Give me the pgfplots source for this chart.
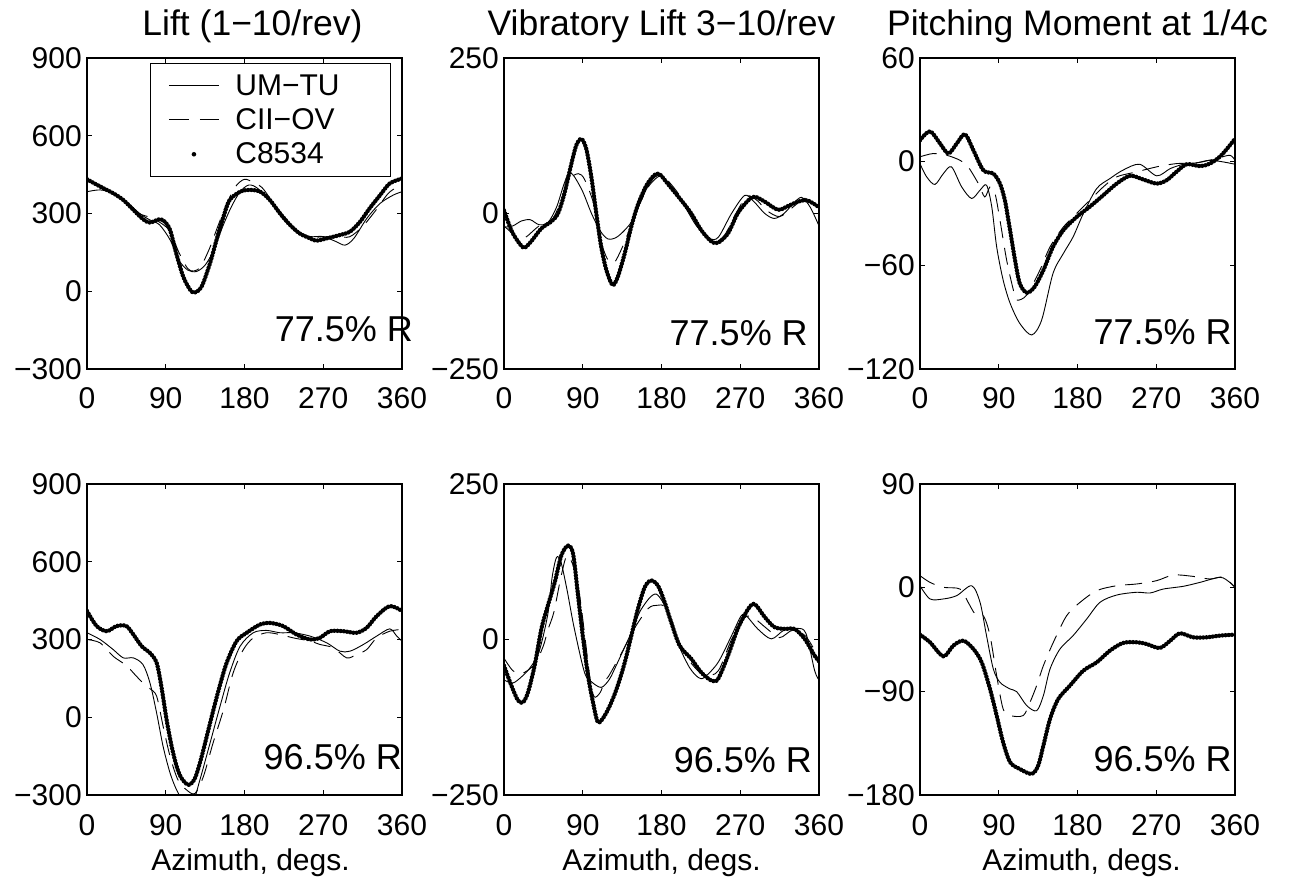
\documentclass[border=0pt]{standalone}
\usepackage{fontspec}
\setmainfont{Liberation Sans}
\usepackage{pgfplots}
\pgfplotsset{compat=1.18}

\tikzset{ann/.style={anchor=base east, font=\fontsize{36}{40}\selectfont, inner sep=0pt}}
\pgfplotsset{
  mm/.style={
    scale only axis, width=315pt, height=311pt,
    xmin=0, xmax=360, xtick={0,90,180,270,360},
    xticklabels={0,90,180,270,360},
    tick align=inside, major tick length=5pt,
    axis line style={line width=1.2pt},
    every tick/.style={line width=1.2pt, black},
    tick label style={font=\fontsize{30}{36}\selectfont},
    yticklabel style={anchor=east, inner sep=0pt, xshift=-5pt},
    xticklabel style={anchor=base, inner sep=0pt, yshift=-40pt},
    title style={font=\fontsize{35.5}{40}\selectfont, at={(0.5,1)}, anchor=base, yshift=16pt, inner sep=0pt},
    xlabel style={font=\fontsize{30}{36}\selectfont, at={(0.5,0)}, anchor=base, yshift=-75pt, inner sep=0pt},
    clip mode=individual,
    anchor=south west,
  },
  um/.style={black, line width=0.9pt, smooth},
  cii/.style={black, line width=0.9pt, dash pattern=on 17pt off 10pt, smooth},
  cc/.style={black, line width=4.4pt, line cap=round, dash pattern=on 0pt off 3.2pt, smooth},
}

\begin{document}
\begin{tikzpicture}
\useasboundingbox (0,0) rectangle (1289pt,881pt);

% ---------------- Panel 1 ----------------
\begin{axis}[mm, at={(87pt,512pt)},
  ymin=-300, ymax=900, ytick={-300,0,300,600,900},
  yticklabels={−300,0,300,600,900},
  title={Lift (1−10/rev)}, title style={xshift=8pt},
  legend style={at={(0.2,0.984)}, anchor=north west, draw=black, line width=1pt,
    fill=white, font=\fontsize{30}{36}\selectfont, inner xsep=18pt, inner ysep=9pt,
    row sep=8pt, cells={anchor=west},
    /tikz/every odd column/.append style={column sep=14pt}},
]
\addplot[um, legend image code/.code={\draw[black, line width=0.9pt, solid] (0pt,0pt) -- (50pt,0pt);}] coordinates {
(0,384)(15,391)(30,378)(45,346)(60,300)(72,275)(83,256)(95,198)(105,120)(115,82)(125,76)(135,101)(145,159)(155,249)(165,326)(175,384)(185,410)(195,397)(210,346)(225,275)(240,230)(255,211)(270,211)(285,191)(295,178)(305,204)(320,282)(335,339)(350,371)(360,384)};
\addlegendentry{\makebox[135pt][l]{UM−TU}}
\addplot[cii, legend image code/.code={\draw[black, line width=0.9pt, solid] (0pt,0pt) -- (20pt,0pt); \draw[black, line width=0.9pt, solid] (31pt,0pt) -- (50pt,0pt);}] coordinates {
(0,425)(15,410)(30,380)(45,345)(60,300)(72,285)(85,262)(95,230)(105,150)(115,88)(122,78)(130,95)(140,165)(150,255)(160,340)(170,405)(180,432)(190,420)(200,400)(210,355)(225,290)(240,235)(255,210)(270,210)(285,212)(300,210)(315,250)(330,312)(345,380)(360,412)};
\addlegendentry{\makebox[135pt][l]{CII−OV}}
\addplot[cc, legend image code/.code={\path[draw=none] (0pt,0pt) -- (50pt,0pt); \fill[black, draw=none] (25pt,0pt) circle (2.3pt);}] coordinates {
(0,432)(15,404)(30,378)(41.5,352)(53,314)(64,278)(72,265)(83,278)(89,268)(95,236)(102,146)(110,56)(118,5)(123,-5)(131,18)(140.6,108)(148,198)(156,288)(163,352)(175,384)(186,391)(198,384)(209,352)(220.6,300)(232,256)(243,223)(255,204)(262,195)(274,204)(289,217)(300.6,230)(312,268)(323,320)(335,371)(346,416)(360,435)};
\addlegendentry{\makebox[135pt][l]{C8534}}
\node[ann] at (rel axis cs:1.035,0.087) {77.5\% R};
\end{axis}

% ---------------- Panel 2 ----------------
\begin{axis}[mm, at={(504pt,512pt)},
  ymin=-250, ymax=250, ytick={-250,0,250},
  yticklabels={−250,0,250},
  title={Vibratory Lift 3−10/rev},
]
\addplot[um] coordinates {
(0,-22)(10,-20)(20,-12)(30,-10)(40,-18)(50,-15)(60,10)(68,45)(74,65)(80,60)(90,35)(100,0)(110,-28)(119,-41)(130,-37)(145,-15)(155,15)(165,45)(176,61)(190,45)(205,15)(220,-20)(235,-40)(245,-38)(260,0)(275,29)(285,20)(298,0)(309,-8)(320,0)(330,15)(340,26)(350,10)(360,-20)};
\addplot[cii] coordinates {
(0,-20)(8,-30)(16,-40)(25,-38)(40,-20)(55,-10)(65,20)(75,55)(85,64)(92,55)(102,18)(107,-22)(113,-55)(119,-75)(126,-79)(135,-55)(145,-20)(155,15)(165,43)(175,58)(182,60)(195,40)(210,10)(225,-25)(240,-45)(252,-35)(265,0)(278,28)(290,20)(300,5)(315,-5)(330,10)(345,25)(360,8)};
\addplot[cc] coordinates {
(0,5)(8.4,-27)(16,-45)(23,-55)(31,-45)(42.7,-24)(54,-13)(61.7,0)(69,32)(77,80)(82.7,110)(88.4,120)(94,104)(99.8,59)(105.5,0)(111,-53)(117,-91)(124,-115)(130,-102)(138,-64)(145.5,-21)(153,14)(162.7,45)(172,62)(178,63)(187,48)(202.7,21)(214,0)(225.5,-27)(237,-45)(244.6,-47)(256,-32)(267,0)(279,21)(286.5,27)(298,19)(313,6)(324.6,12)(336,19)(347,21)(360,10)};
\node[ann] at (rel axis cs:0.965,0.074) {77.5\% R};
\end{axis}

% ---------------- Panel 3 ----------------
\begin{axis}[mm, at={(920pt,512pt)},
  ymin=-120, ymax=60, ytick={-120,-60,0,60},
  yticklabels={−120,−60,0,60},
  title={Pitching Moment at 1/4c},
]
\addplot[um] coordinates {
(0,-1.2)(7.6,-8.8)(17,-13.2)(26.7,-6.9)(36,-3)(47.6,-14.6)(59,-21.3)(68.6,-16.5)(76,-13.6)(82,-26.1)(87.6,-49.3)(95,-68.5)(103,-82)(114,-93.6)(127.6,-100.3)(139,-91.7)(152,-64.7)(164,-53)(175,-43.5)(186.7,-30)(202,-15.5)(217,-9.8)(232,-4.9)(251,-1.5)(270.5,-8.2)(286,-4)(301,-1.5)(316,-0.7)(331,0.8)(347,-0.2)(360,-1.5)};
\addplot[cii] coordinates {
(0,2.8)(15,4.7)(30.5,3.7)(45.7,0.8)(55,-3)(66.7,-12.7)(74,-20.4)(80,-14.6)(85.7,-18.4)(91.4,-33.9)(99,-57)(106.7,-74.3)(110.5,-80.1)(122,-77.2)(137,-62.8)(148.6,-49.3)(164,-37.7)(179,-30)(194,-22.3)(209.5,-14.6)(224.8,-8.8)(247.6,-5.9)(270.5,-3)(293.3,-1.1)(316,-0.7)(339,1.8)(354,3.7)(360,0.8)};
\addplot[cc] coordinates {
(0,12.4)(11.4,17.6)(22.9,10.5)(32.4,4.7)(42,10.5)(51.4,15.9)(61,6.6)(72.4,-5)(83.8,-6.9)(91.4,-12.7)(97,-22.3)(101,-33.9)(104.8,-45.4)(108.6,-57)(114,-70.5)(122,-75.9)(131,-72.4)(141,-62.8)(152,-49.3)(164,-39.6)(179,-32)(194,-26.1)(209.5,-19.4)(224.8,-12.7)(240,-8.2)(255,-10.3)(270.5,-12.7)(282,-10.7)(293,-5.9)(304.8,-1.5)(320,-2.6)(331,-1.2)(343,3)(354,9.4)(360,13.3)};
\node[ann] at (rel axis cs:0.99,0.08) {77.5\% R};
\end{axis}

% ---------------- Panel 4 ----------------
\begin{axis}[mm, at={(87pt,86pt)},
  ymin=-300, ymax=900, ytick={-300,0,300,600,900},
  yticklabels={−300,0,300,600,900},
  xlabel={Azimuth, degs.}, xlabel style={xshift=6pt},
]
\addplot[um] coordinates {
(0,326)(15,300)(30,261)(41.5,229)(53,229)(64,203)(72,132)(79.6,16)(87,-113)(95,-216)(102.5,-281)(110,-320)(121.5,-320)(129,-242)(140.6,-100)(152,42)(163,171)(175,274)(190,326)(205,335)(220.6,326)(236,326)(255,313)(274,287)(289,255)(300.6,255)(316,281)(331,313)(346,341)(354,313)(360,294)};
\addplot[cii] coordinates {
(0,300)(15,287)(30,235)(45,200)(53,171)(64,132)(72,110)(79.6,81)(87,-35)(95,-152)(104,-242)(114,-281)(123.4,-294)(133,-229)(144,-100)(156,29)(167,171)(178.7,261)(190,306)(205,326)(220.6,319)(236,306)(255,294)(266,281)(281.5,268)(296.8,229)(308,242)(319.6,261)(331,306)(346,332)(360,339)};
\addplot[cc] coordinates {
(0,410)(11,352)(22.5,332)(34,352)(45,352)(53,319)(62.5,274)(72,248)(79.6,210)(85,119)(91,-10)(96.8,-113)(102.5,-190)(108,-235)(116,-261)(123.4,-235)(131,-152)(140.6,-23)(150,100)(159.6,210)(171,294)(182.5,326)(197.7,358)(209,364)(224,352)(239.6,319)(255,300)(266,306)(277.7,332)(293,332)(308,326)(319.6,345)(331,390)(346,429)(360,410)};
\node[ann] at (rel axis cs:1.0,0.081) {96.5\% R};
\end{axis}

% ---------------- Panel 5 ----------------
\begin{axis}[mm, at={(504pt,86pt)},
  ymin=-250, ymax=250, ytick={-250,0,250},
  yticklabels={−250,0,250},
  xlabel={Azimuth, degs.},
]
\addplot[um] coordinates {
(0,-65)(10,-70)(20,-60)(30,-45)(40,-20)(50,40)(55,100)(60,132)(65,125)(72,80)(80,20)(92,-53)(100,-68)(111,-77)(120,-65)(126.5,-47)(145.5,11)(157,49)(174,73)(191,33)(200,-10)(212,-45)(222,-61)(229,-61)(244.6,-37)(260,6)(271,38)(277,38)(290,17)(305.5,1)(320,15)(335,18)(345,10)(355,-50)(360,-65)};
\addplot[cii] coordinates {
(0,-30)(10,-50)(20,-55)(35,-40)(45,-10)(50,15)(57,44)(65,100)(72,135)(80,115)(86,75)(92,10)(98,-60)(103,-92)(110,-85)(115,-67)(120,-58)(135,-20)(150,20)(165,50)(175,55)(185,50)(200,-5)(215,-40)(230,-58)(245,-50)(260,0)(275,35)(285,35)(300,18)(315,3)(330,15)(345,5)(360,-30)};
\addplot[cc] coordinates {
(0,-42)(8.4,-74)(16,-98)(21.7,-101)(27.4,-85)(35,-42)(42.7,17)(50,54)(58,92)(65.5,135)(73,151)(79,137.5)(84.6,70.5)(90,6)(96,-58)(101.7,-101)(107.4,-133)(115,-122.5)(122.7,-101)(130,-74)(138,-37)(145.5,6)(153,49)(160.8,84)(168,95)(176,86.5)(183.6,60)(191,28)(200.8,-10)(214,-31)(225.5,-53)(237,-66)(244.6,-63.5)(256,-26)(267,17)(279,49)(286.5,57)(298,36)(309,20)(320.8,17)(332,17)(343.6,1)(355,-26)(360,-35)};
\node[ann] at (rel axis cs:0.978,0.071) {96.5\% R};
\end{axis}

% ---------------- Panel 6 ----------------
\begin{axis}[mm, at={(920pt,86pt)},
  ymin=-180, ymax=90, ytick={-180,-90,0,90},
  yticklabels={−180,−90,0,90},
  xlabel={Azimuth, degs.}, xlabel style={xshift=4pt},
]
\addplot[um] coordinates {
(0,1.7)(11.4,-9.8)(26.7,-9.8)(42,-6.9)(59,1.7)(68.6,-12.7)(76,-41.6)(83.8,-70.6)(91.4,-82.2)(103,-88)(110.5,-90.3)(122,-102.4)(133.3,-106.8)(141,-93.7)(148.6,-70.6)(160,-53.2)(175,-41.6)(190.5,-27.2)(205.7,-12.7)(224.8,-6.4)(247.6,-4)(263,-4.6)(278,-1.2)(301,1.2)(320,4.6)(343,9)(354,4.6)(360,0.3)};
\addplot[cii] coordinates {
(0,10.4)(11.4,4.6)(26.7,0.3)(45.7,-1.2)(55,-12.7)(63,-22.8)(72.4,-24.3)(80,-41.6)(87.6,-76.4)(95,-105.3)(103,-111)(118,-111)(125.7,-99.5)(133.3,-85)(141,-67.7)(152.4,-47.4)(167.6,-24.3)(183,-12.7)(202,-2.6)(224.8,1.7)(247.6,3.2)(270.5,6.1)(289.5,11)(312,9.8)(331.4,7.5)(346.7,9)(360,0.3)};
\addplot[cc] coordinates {
(0,-40.8)(11.4,-47.4)(26.7,-59.6)(38,-50.3)(49.5,-46)(61,-53.2)(70.5,-64.8)(80,-88)(87.6,-111)(95,-134.3)(103,-151.6)(114,-157.4)(127.6,-161.7)(135,-154.5)(141,-137.1)(148.6,-114)(158,-96.6)(171.4,-85)(186.7,-72)(202,-64.8)(217,-54.7)(232,-48)(247.6,-47.4)(259,-48.9)(274,-52.4)(286,-46)(297,-39.6)(312,-43.1)(327.6,-43.1)(343,-41.6)(360,-40.8)};
\node[ann] at (rel axis cs:0.99,0.074) {96.5\% R};
\end{axis}
\end{tikzpicture}
\end{document}
